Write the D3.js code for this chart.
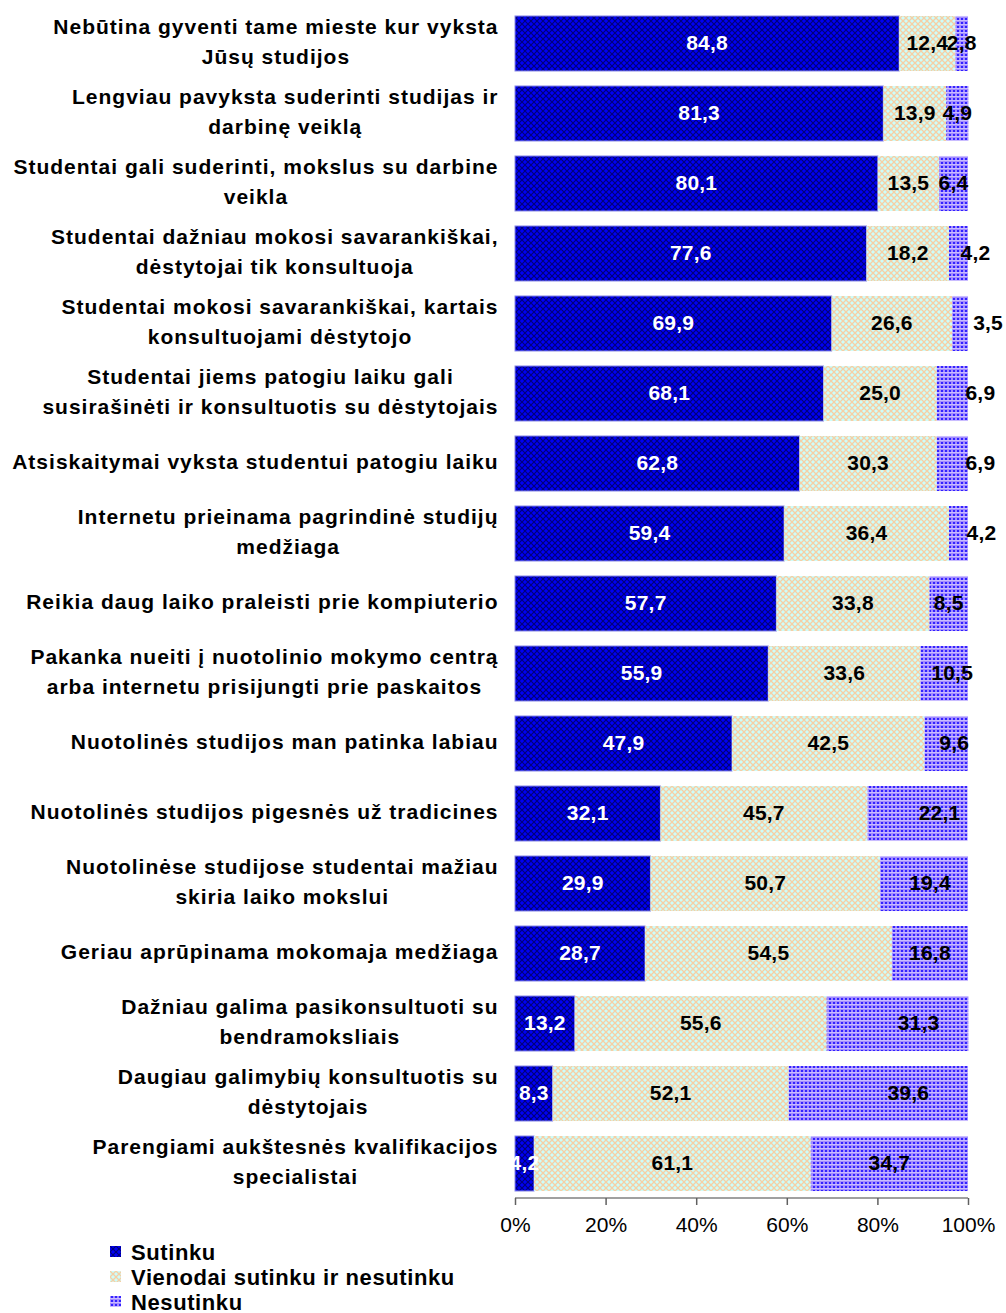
<!DOCTYPE html>
<html>
<head>
<meta charset="utf-8">
<script src="https://cdn.jsdelivr.net/npm/d3@7"></script>
<style>
  html, body { margin: 0; padding: 0; background: #fff; }
  svg { display: block; font-family: "Liberation Sans", Arial, sans-serif; }
</style>
</head>
<body>
<svg id="chart" width="1006" height="1313"></svg>
<script>
// Survey statements (each entry is the list of wrapped lines)
const categories = [
  ["Nebūtina gyventi tame mieste kur vyksta", "Jūsų studijos"],
  ["Lengviau pavyksta suderinti studijas ir", "darbinę veiklą"],
  ["Studentai gali suderinti, mokslus su darbine", "veikla"],
  ["Studentai dažniau mokosi savarankiškai,", "dėstytojai tik konsultuoja"],
  ["Studentai mokosi savarankiškai, kartais", "konsultuojami dėstytojo"],
  ["Studentai jiems patogiu laiku gali", "susirašinėti ir konsultuotis su dėstytojais"],
  ["Atsiskaitymai vyksta studentui patogiu laiku"],
  ["Internetu prieinama pagrindinė studijų", "medžiaga"],
  ["Reikia daug laiko praleisti prie kompiuterio"],
  ["Pakanka nueiti į nuotolinio mokymo centrą", "arba internetu prisijungti prie paskaitos"],
  ["Nuotolinės studijos man patinka labiau"],
  ["Nuotolinės studijos pigesnės už tradicines"],
  ["Nuotolinėse studijose studentai mažiau", "skiria laiko mokslui"],
  ["Geriau aprūpinama mokomaja medžiaga"],
  ["Dažniau galima pasikonsultuoti su", "bendramoksliais"],
  ["Daugiau galimybių konsultuotis su", "dėstytojais"],
  ["Parengiami aukštesnės kvalifikacijos", "specialistai"]
];

// Shares of answers, %
const sutinku    = [84.8, 81.3, 80.1, 77.6, 69.9, 68.1, 62.8, 59.4, 57.7, 55.9, 47.9, 32.1, 29.9, 28.7, 13.2, 8.3, 4.2];
const vienodai   = [12.4, 13.9, 13.5, 18.2, 26.6, 25.0, 30.3, 36.4, 33.8, 33.6, 42.5, 45.7, 50.7, 54.5, 55.6, 52.1, 61.1];
const nesutinku  = [2.8, 4.9, 6.4, 4.2, 3.5, 6.9, 6.9, 4.2, 8.5, 10.5, 9.6, 22.1, 19.4, 16.8, 31.3, 39.6, 34.7];

const seriesNames = ["Sutinku", "Vienodai sutinku ir nesutinku", "Nesutinku"];
const tickValues = [0, 20, 40, 60, 80, 100];
const tickLabels = ["0%", "20%", "40%", "60%", "80%", "100%"];

// Hand-placed offsets (px) of the "Nesutinku" value labels
const nesutinkuLabelShift = [0, 0, 0, 17, 28, 28, 28, 23, 0, 8, 8, 22, 6, 0, 21, 30, 0];

const svg = d3.select("#chart");
const defs = svg.append("defs");

// Fill patterns
function crossHatch(id, bg, line, size, w) {
  const p = defs.append("pattern").attr("id", id)
    .attr("patternUnits", "userSpaceOnUse").attr("width", size).attr("height", size);
  p.append("rect").attr("width", size).attr("height", size).attr("fill", bg);
  p.append("path").attr("d", `M0,0L${size},${size}M${size},0L0,${size}`)
    .attr("stroke", line).attr("stroke-width", w).attr("fill", "none");
}
crossHatch("patSut", "#0000f4", "#000078", 6, 1.2);
crossHatch("patVien", "#cdfdfa", "#f6cfa4", 6, 1.3);
{
  const p = defs.append("pattern").attr("id", "patNes")
    .attr("patternUnits", "userSpaceOnUse").attr("width", 4).attr("height", 4);
  p.append("rect").attr("width", 4).attr("height", 4).attr("fill", "#a28cff");
  p.append("rect").attr("x", 0).attr("y", 0).attr("width", 4).attr("height", 1).attr("fill", "#c9bcff");
  p.append("rect").attr("x", 1).attr("y", 2).attr("width", 2).attr("height", 2).attr("fill", "#3322ff");
}
const fills = ["url(#patSut)", "url(#patVien)", "url(#patNes)"];
const labelColors = ["#ffffff", "#000000", "#000000"];

const x = d3.scaleLinear().domain([0, 100]).range([515, 968]);
const y = d3.scaleBand().domain(d3.range(categories.length)).range([1, 1206])
  .paddingInner(0.214).paddingOuter(0.214);

const rows = categories.map((c, i) => ({ i, vals: [sutinku[i], vienodai[i], nesutinku[i]] }));
const stack = d3.stack().keys([0, 1, 2]).value((d, k) => d.vals[k]);
const stacked = stack(rows);

// Bars
const g = svg.append("g");
stacked.forEach((layer, k) => {
  g.selectAll(null).data(layer).join("rect")
    .attr("x", d => x(d[0]))
    .attr("y", d => y(d.data.i))
    .attr("width", d => x(d[1]) - x(d[0]))
    .attr("height", y.bandwidth())
    .attr("fill", fills[k])
    .attr("stroke", k === 0 ? "#8a8ae8" : "none")
    .attr("stroke-width", 1);
});

// Value labels
stacked.forEach((layer, k) => {
  g.selectAll(null).data(layer).join("text")
    .attr("x", d => (x(d[0]) + x(d[1])) / 2 + (k === 2 ? nesutinkuLabelShift[d.data.i] : 0))
    .attr("y", d => y(d.data.i) + y.bandwidth() / 2 - 1)
    .attr("dy", "0.36em")
    .attr("text-anchor", "middle")
    .attr("font-size", 21).attr("font-weight", "bold")
    .attr("letter-spacing", 0.2)
    .attr("fill", labelColors[k])
    .text(d => d3.format(".1f")(d.data.vals[k]).replace(".", ","));
});

// Category labels: block right-aligned, lines centred within the block
const labelRight = 498;
const lineH = 30;
const catG = svg.append("g").attr("font-size", 21).attr("font-weight", "bold").attr("fill", "#000");
categories.forEach((lines, i) => {
  const cy = y(i) + y.bandwidth() / 2 - 2;
  const t = catG.append("text").attr("text-anchor", "middle").attr("letter-spacing", 1.0);
  const spans = lines.map((ln, j) => t.append("tspan")
    .attr("y", cy + (j - (lines.length - 1) / 2) * lineH)
    .attr("dy", "0.36em")
    .text(ln));
  const maxW = d3.max(spans, s => s.node().getComputedTextLength());
  spans.forEach(s => s.attr("x", labelRight - maxW / 2 + 0.5));
});

// X axis
const axisY = 1198;
const axis = svg.append("g").attr("transform", `translate(0,${axisY})`)
  .call(d3.axisBottom(x).tickValues(tickValues).tickSize(7).tickPadding(12)
    .tickFormat((d, i) => tickLabels[i]));
axis.select(".domain").attr("stroke", "#808080").attr("stroke-width", 1.5).attr("d", `M${x(0)},0H${x(100)}`);
axis.selectAll(".tick line").attr("stroke", "#606060").attr("stroke-width", 1.5);
axis.selectAll(".tick text").attr("font-size", 21).attr("fill", "#000")
  .attr("font-family", "'Liberation Sans', Arial, sans-serif");

// Legend
const leg = svg.append("g").attr("transform", "translate(110,1252)");
seriesNames.forEach((name, k) => {
  const row = leg.append("g").attr("transform", `translate(0,${k * 25})`);
  row.append("rect").attr("x", 0).attr("y", -6).attr("width", 11).attr("height", 11).attr("fill", fills[k]);
  row.append("text").attr("x", 21).attr("y", 0).attr("dy", "0.36em")
    .attr("font-size", 22).attr("font-weight", "bold").attr("letter-spacing", 0.6).text(name);
});
</script>
</body>
</html>
